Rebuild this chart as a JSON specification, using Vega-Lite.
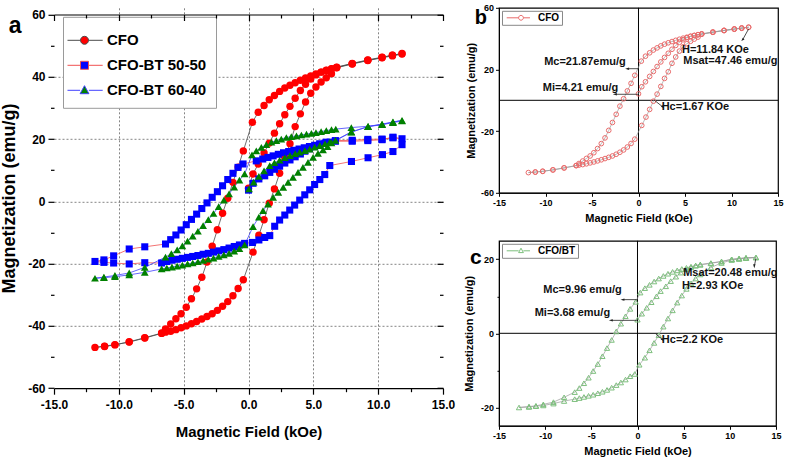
{
  "$schema": "https://vega.github.io/schema/vega-lite/v6.json",
  "background": "white",
  "padding": {"left": 0, "top": 2.8, "right": 2, "bottom": 2},
  "config": {
    "view": {"stroke": "#000", "strokeWidth": 1.2},
    "axis": {"labelColor": "#000", "titleColor": "#000", "tickColor": "#000", "domainColor": "#000", "labelFontWeight": "bold", "titleFontWeight": "bold", "labelFont": "Liberation Sans", "titleFont": "Liberation Sans", "grid": false, "minExtent": 0},
    "axisY": {"minExtent": 0},
    "legend": {"cornerRadius": 0, "strokeColor": "#999", "fillColor": "white"}
  },
  "datasets": {
    "loops": [
      {"s":"CFO","h":0,"m":4.21},{"s":"CFO","h":0.35,"m":8.8},{"s":"CFO","h":0.75,"m":12.0},{"s":"CFO","h":1.2,"m":15.5},{"s":"CFO","h":1.6,"m":18.7},{"s":"CFO","h":2.0,"m":21.9},{"s":"CFO","h":2.4,"m":24.9},{"s":"CFO","h":2.8,"m":27.8},{"s":"CFO","h":3.2,"m":30.5},{"s":"CFO","h":3.6,"m":33.1},{"s":"CFO","h":4.0,"m":35.6},{"s":"CFO","h":4.4,"m":37.6},{"s":"CFO","h":4.8,"m":39.3},{"s":"CFO","h":5.2,"m":40.6},{"s":"CFO","h":5.6,"m":41.5},{"s":"CFO","h":6.0,"m":42.1},{"s":"CFO","h":6.4,"m":42.6},{"s":"CFO","h":6.8,"m":43.1},{"s":"CFO","h":8.0,"m":44.3},{"s":"CFO","h":9.2,"m":45.4},{"s":"CFO","h":10.3,"m":46.3},{"s":"CFO","h":11.1,"m":46.9},{"s":"CFO","h":11.84,"m":47.46},
      {"s":"CFO","h":11.1,"m":46.9},{"s":"CFO","h":10.3,"m":46.2},{"s":"CFO","h":9.2,"m":45.3},{"s":"CFO","h":8.0,"m":44.2},{"s":"CFO","h":6.8,"m":43.0},{"s":"CFO","h":6.4,"m":42.5},{"s":"CFO","h":6.0,"m":42.0},{"s":"CFO","h":5.6,"m":41.5},{"s":"CFO","h":5.2,"m":40.9},{"s":"CFO","h":4.8,"m":40.3},{"s":"CFO","h":4.4,"m":39.6},{"s":"CFO","h":4.0,"m":38.9},{"s":"CFO","h":3.6,"m":38.1},{"s":"CFO","h":3.2,"m":37.3},{"s":"CFO","h":2.8,"m":36.4},{"s":"CFO","h":2.4,"m":35.3},{"s":"CFO","h":2.0,"m":34.0},{"s":"CFO","h":1.6,"m":32.6},{"s":"CFO","h":1.2,"m":30.8},{"s":"CFO","h":0.75,"m":28.6},{"s":"CFO","h":0.3,"m":25.4},{"s":"CFO","h":-0.4,"m":16.2},{"s":"CFO","h":-0.8,"m":11.0},{"s":"CFO","h":-1.2,"m":6.1},{"s":"CFO","h":-1.6,"m":1.0},{"s":"CFO","h":-2.0,"m":-3.8},{"s":"CFO","h":-2.4,"m":-9.1},{"s":"CFO","h":-2.8,"m":-14.4},{"s":"CFO","h":-3.2,"m":-19.5},{"s":"CFO","h":-3.6,"m":-24.4},{"s":"CFO","h":-4.0,"m":-28.1},{"s":"CFO","h":-4.4,"m":-31.3},{"s":"CFO","h":-4.8,"m":-34.0},{"s":"CFO","h":-5.2,"m":-36.1},{"s":"CFO","h":-5.6,"m":-37.7},{"s":"CFO","h":-6.0,"m":-39.4},{"s":"CFO","h":-6.4,"m":-41.0},{"s":"CFO","h":-6.7,"m":-42.4},{"s":"CFO","h":-8.0,"m":-43.9},{"s":"CFO","h":-9.2,"m":-45.2},{"s":"CFO","h":-10.3,"m":-46.0},{"s":"CFO","h":-11.1,"m":-46.5},{"s":"CFO","h":-11.84,"m":-46.9},
      {"s":"CFO","h":-11.1,"m":-46.6},{"s":"CFO","h":-10.3,"m":-46.1},{"s":"CFO","h":-9.2,"m":-45.1},{"s":"CFO","h":-8.0,"m":-43.8},{"s":"CFO","h":-6.7,"m":-42.3},{"s":"CFO","h":-6.4,"m":-42.0},{"s":"CFO","h":-6.0,"m":-41.7},{"s":"CFO","h":-5.6,"m":-41.2},{"s":"CFO","h":-5.2,"m":-40.6},{"s":"CFO","h":-4.8,"m":-40.0},{"s":"CFO","h":-4.4,"m":-39.3},{"s":"CFO","h":-4.0,"m":-38.6},{"s":"CFO","h":-3.6,"m":-37.8},{"s":"CFO","h":-3.2,"m":-37.0},{"s":"CFO","h":-2.8,"m":-36.1},{"s":"CFO","h":-2.4,"m":-35.0},{"s":"CFO","h":-2.0,"m":-33.7},{"s":"CFO","h":-1.6,"m":-32.2},{"s":"CFO","h":-1.2,"m":-30.3},{"s":"CFO","h":-0.8,"m":-28.0},{"s":"CFO","h":-0.4,"m":-25.2},{"s":"CFO","h":0.35,"m":-16.3},{"s":"CFO","h":0.8,"m":-10.9},{"s":"CFO","h":1.2,"m":-5.9},{"s":"CFO","h":1.6,"m":-0.6},{"s":"CFO","h":2.0,"m":4.0},{"s":"CFO","h":2.4,"m":9.0},{"s":"CFO","h":2.8,"m":14.2},{"s":"CFO","h":3.2,"m":18.5},{"s":"CFO","h":3.6,"m":24.0},{"s":"CFO","h":4.0,"m":28.1},{"s":"CFO","h":4.4,"m":31.9},{"s":"CFO","h":4.8,"m":34.7},{"s":"CFO","h":5.2,"m":36.7},{"s":"CFO","h":5.6,"m":38.3},{"s":"CFO","h":6.0,"m":39.7},{"s":"CFO","h":6.4,"m":41.0},{"s":"CFO","h":6.8,"m":42.9},{"s":"CFO","h":8.0,"m":44.1},{"s":"CFO","h":9.2,"m":45.2},{"s":"CFO","h":10.3,"m":46.1},{"s":"CFO","h":11.1,"m":46.7},{"s":"CFO","h":11.84,"m":47.3},

      {"s":"CFO-BT 50-50","h":0,"m":3.6},{"s":"CFO-BT 50-50","h":0.35,"m":5.8},{"s":"CFO-BT 50-50","h":0.8,"m":7.2},{"s":"CFO-BT 50-50","h":1.25,"m":8.2},{"s":"CFO-BT 50-50","h":1.64,"m":9.3},{"s":"CFO-BT 50-50","h":2.0,"m":10.3},{"s":"CFO-BT 50-50","h":2.4,"m":11.3},{"s":"CFO-BT 50-50","h":2.8,"m":12.3},{"s":"CFO-BT 50-50","h":3.2,"m":13.3},{"s":"CFO-BT 50-50","h":3.6,"m":14.3},{"s":"CFO-BT 50-50","h":4.0,"m":15.2},{"s":"CFO-BT 50-50","h":4.35,"m":16.1},{"s":"CFO-BT 50-50","h":4.7,"m":16.9},{"s":"CFO-BT 50-50","h":5.1,"m":17.6},{"s":"CFO-BT 50-50","h":5.5,"m":18.4},{"s":"CFO-BT 50-50","h":6.0,"m":19.0},{"s":"CFO-BT 50-50","h":6.7,"m":19.5},{"s":"CFO-BT 50-50","h":8.0,"m":19.6},{"s":"CFO-BT 50-50","h":9.2,"m":19.9},{"s":"CFO-BT 50-50","h":10.3,"m":20.0},{"s":"CFO-BT 50-50","h":11.14,"m":20.4},{"s":"CFO-BT 50-50","h":11.84,"m":20.1},
      {"s":"CFO-BT 50-50","h":11.14,"m":20.6},{"s":"CFO-BT 50-50","h":10.3,"m":19.8},{"s":"CFO-BT 50-50","h":9.2,"m":19.5},{"s":"CFO-BT 50-50","h":8.0,"m":19.3},{"s":"CFO-BT 50-50","h":6.7,"m":19.3},{"s":"CFO-BT 50-50","h":6.3,"m":19.0},{"s":"CFO-BT 50-50","h":5.9,"m":18.7},{"s":"CFO-BT 50-50","h":5.5,"m":18.4},{"s":"CFO-BT 50-50","h":5.1,"m":18.0},{"s":"CFO-BT 50-50","h":4.7,"m":17.6},{"s":"CFO-BT 50-50","h":4.3,"m":17.2},{"s":"CFO-BT 50-50","h":3.9,"m":16.8},{"s":"CFO-BT 50-50","h":3.5,"m":16.4},{"s":"CFO-BT 50-50","h":3.1,"m":16.0},{"s":"CFO-BT 50-50","h":2.7,"m":15.6},{"s":"CFO-BT 50-50","h":2.3,"m":15.1},{"s":"CFO-BT 50-50","h":1.9,"m":14.6},{"s":"CFO-BT 50-50","h":1.5,"m":14.1},{"s":"CFO-BT 50-50","h":1.1,"m":13.6},{"s":"CFO-BT 50-50","h":0.6,"m":13.0},{"s":"CFO-BT 50-50","h":-0.42,"m":12.0},{"s":"CFO-BT 50-50","h":-0.81,"m":10.9},{"s":"CFO-BT 50-50","h":-1.2,"m":9.0},{"s":"CFO-BT 50-50","h":-1.6,"m":7.0},{"s":"CFO-BT 50-50","h":-2.0,"m":5.0},{"s":"CFO-BT 50-50","h":-2.4,"m":3.1},{"s":"CFO-BT 50-50","h":-2.8,"m":1.3},{"s":"CFO-BT 50-50","h":-3.2,"m":-0.5},{"s":"CFO-BT 50-50","h":-3.6,"m":-2.3},{"s":"CFO-BT 50-50","h":-4.0,"m":-4.1},{"s":"CFO-BT 50-50","h":-4.4,"m":-5.8},{"s":"CFO-BT 50-50","h":-4.8,"m":-7.5},{"s":"CFO-BT 50-50","h":-5.2,"m":-9.2},{"s":"CFO-BT 50-50","h":-5.6,"m":-10.8},{"s":"CFO-BT 50-50","h":-6.0,"m":-12.3},{"s":"CFO-BT 50-50","h":-6.4,"m":-13.7},{"s":"CFO-BT 50-50","h":-8.0,"m":-14.6},{"s":"CFO-BT 50-50","h":-9.2,"m":-15.3},{"s":"CFO-BT 50-50","h":-10.4,"m":-17.5},{"s":"CFO-BT 50-50","h":-11.15,"m":-18.8},{"s":"CFO-BT 50-50","h":-11.84,"m":-19.3},
      {"s":"CFO-BT 50-50","h":-11.15,"m":-19.6},{"s":"CFO-BT 50-50","h":-10.4,"m":-19.8},{"s":"CFO-BT 50-50","h":-9.2,"m":-20.1},{"s":"CFO-BT 50-50","h":-8.0,"m":-19.7},{"s":"CFO-BT 50-50","h":-6.7,"m":-19.8},{"s":"CFO-BT 50-50","h":-6.3,"m":-19.3},{"s":"CFO-BT 50-50","h":-5.9,"m":-18.9},{"s":"CFO-BT 50-50","h":-5.5,"m":-18.6},{"s":"CFO-BT 50-50","h":-5.1,"m":-18.3},{"s":"CFO-BT 50-50","h":-4.7,"m":-18.0},{"s":"CFO-BT 50-50","h":-4.3,"m":-17.7},{"s":"CFO-BT 50-50","h":-3.9,"m":-17.4},{"s":"CFO-BT 50-50","h":-3.5,"m":-17.0},{"s":"CFO-BT 50-50","h":-3.1,"m":-16.7},{"s":"CFO-BT 50-50","h":-2.7,"m":-16.3},{"s":"CFO-BT 50-50","h":-2.3,"m":-15.9},{"s":"CFO-BT 50-50","h":-1.9,"m":-15.5},{"s":"CFO-BT 50-50","h":-1.5,"m":-15.0},{"s":"CFO-BT 50-50","h":-1.1,"m":-14.5},{"s":"CFO-BT 50-50","h":-0.7,"m":-14.0},{"s":"CFO-BT 50-50","h":-0.3,"m":-13.5},{"s":"CFO-BT 50-50","h":0.3,"m":-13.2},{"s":"CFO-BT 50-50","h":0.8,"m":-12.4},{"s":"CFO-BT 50-50","h":1.25,"m":-11.6},{"s":"CFO-BT 50-50","h":1.64,"m":-11.0},{"s":"CFO-BT 50-50","h":2.02,"m":-8.0},{"s":"CFO-BT 50-50","h":2.4,"m":-6.0},{"s":"CFO-BT 50-50","h":2.8,"m":-4.4},{"s":"CFO-BT 50-50","h":3.18,"m":-2.8},{"s":"CFO-BT 50-50","h":3.56,"m":-1.2},{"s":"CFO-BT 50-50","h":3.95,"m":0.4},{"s":"CFO-BT 50-50","h":4.34,"m":2.1},{"s":"CFO-BT 50-50","h":4.72,"m":3.7},{"s":"CFO-BT 50-50","h":5.1,"m":5.4},{"s":"CFO-BT 50-50","h":5.5,"m":7.0},{"s":"CFO-BT 50-50","h":5.88,"m":8.6},{"s":"CFO-BT 50-50","h":6.27,"m":11.5},{"s":"CFO-BT 50-50","h":7.94,"m":12.8},{"s":"CFO-BT 50-50","h":9.22,"m":14.0},{"s":"CFO-BT 50-50","h":10.33,"m":15.0},{"s":"CFO-BT 50-50","h":11.14,"m":16.0},{"s":"CFO-BT 50-50","h":11.84,"m":18.2},

      {"s":"CFO-BT 60-40","h":0.04,"m":4.0},{"s":"CFO-BT 60-40","h":0.4,"m":6.2},{"s":"CFO-BT 60-40","h":0.8,"m":8.0},{"s":"CFO-BT 60-40","h":1.2,"m":9.8},{"s":"CFO-BT 60-40","h":1.64,"m":11.5},{"s":"CFO-BT 60-40","h":2.0,"m":12.4},{"s":"CFO-BT 60-40","h":2.4,"m":13.2},{"s":"CFO-BT 60-40","h":2.8,"m":14.0},{"s":"CFO-BT 60-40","h":3.2,"m":14.7},{"s":"CFO-BT 60-40","h":3.6,"m":15.3},{"s":"CFO-BT 60-40","h":3.95,"m":15.8},{"s":"CFO-BT 60-40","h":4.35,"m":16.3},{"s":"CFO-BT 60-40","h":4.72,"m":16.8},{"s":"CFO-BT 60-40","h":5.1,"m":17.4},{"s":"CFO-BT 60-40","h":5.5,"m":17.9},{"s":"CFO-BT 60-40","h":5.9,"m":18.5},{"s":"CFO-BT 60-40","h":6.27,"m":19.0},{"s":"CFO-BT 60-40","h":6.7,"m":19.6},{"s":"CFO-BT 60-40","h":7.93,"m":22.3},{"s":"CFO-BT 60-40","h":9.22,"m":24.0},{"s":"CFO-BT 60-40","h":10.3,"m":24.8},{"s":"CFO-BT 60-40","h":11.14,"m":25.5},{"s":"CFO-BT 60-40","h":11.84,"m":26.0},
      {"s":"CFO-BT 60-40","h":11.14,"m":25.4},{"s":"CFO-BT 60-40","h":10.3,"m":24.7},{"s":"CFO-BT 60-40","h":9.22,"m":24.1},{"s":"CFO-BT 60-40","h":7.93,"m":23.7},{"s":"CFO-BT 60-40","h":6.73,"m":23.2},{"s":"CFO-BT 60-40","h":6.4,"m":23.0},{"s":"CFO-BT 60-40","h":6.0,"m":22.7},{"s":"CFO-BT 60-40","h":5.6,"m":22.4},{"s":"CFO-BT 60-40","h":5.2,"m":22.1},{"s":"CFO-BT 60-40","h":4.85,"m":21.8},{"s":"CFO-BT 60-40","h":4.47,"m":21.6},{"s":"CFO-BT 60-40","h":4.08,"m":21.3},{"s":"CFO-BT 60-40","h":3.7,"m":21.0},{"s":"CFO-BT 60-40","h":3.3,"m":20.8},{"s":"CFO-BT 60-40","h":2.92,"m":20.5},{"s":"CFO-BT 60-40","h":2.53,"m":20.0},{"s":"CFO-BT 60-40","h":2.15,"m":19.5},{"s":"CFO-BT 60-40","h":1.77,"m":19.0},{"s":"CFO-BT 60-40","h":1.38,"m":18.2},{"s":"CFO-BT 60-40","h":0.99,"m":17.3},{"s":"CFO-BT 60-40","h":0.6,"m":16.2},{"s":"CFO-BT 60-40","h":0.27,"m":14.9},{"s":"CFO-BT 60-40","h":-0.3,"m":8.8},{"s":"CFO-BT 60-40","h":-0.7,"m":6.8},{"s":"CFO-BT 60-40","h":-1.1,"m":4.6},{"s":"CFO-BT 60-40","h":-1.5,"m":2.4},{"s":"CFO-BT 60-40","h":-1.9,"m":0.4},{"s":"CFO-BT 60-40","h":-2.3,"m":-1.7},{"s":"CFO-BT 60-40","h":-2.7,"m":-3.9},{"s":"CFO-BT 60-40","h":-3.1,"m":-5.9},{"s":"CFO-BT 60-40","h":-3.5,"m":-7.8},{"s":"CFO-BT 60-40","h":-3.9,"m":-9.6},{"s":"CFO-BT 60-40","h":-4.3,"m":-11.2},{"s":"CFO-BT 60-40","h":-4.7,"m":-12.8},{"s":"CFO-BT 60-40","h":-5.1,"m":-14.3},{"s":"CFO-BT 60-40","h":-5.5,"m":-15.6},{"s":"CFO-BT 60-40","h":-5.95,"m":-16.8},{"s":"CFO-BT 60-40","h":-6.4,"m":-17.9},{"s":"CFO-BT 60-40","h":-8.0,"m":-21.2},{"s":"CFO-BT 60-40","h":-9.2,"m":-23.0},{"s":"CFO-BT 60-40","h":-10.3,"m":-23.8},{"s":"CFO-BT 60-40","h":-11.15,"m":-24.3},{"s":"CFO-BT 60-40","h":-11.84,"m":-24.7},
      {"s":"CFO-BT 60-40","h":-11.15,"m":-24.5},{"s":"CFO-BT 60-40","h":-10.3,"m":-24.2},{"s":"CFO-BT 60-40","h":-9.2,"m":-23.6},{"s":"CFO-BT 60-40","h":-8.0,"m":-22.8},{"s":"CFO-BT 60-40","h":-6.7,"m":-21.7},{"s":"CFO-BT 60-40","h":-6.3,"m":-21.4},{"s":"CFO-BT 60-40","h":-5.9,"m":-21.1},{"s":"CFO-BT 60-40","h":-5.5,"m":-20.8},{"s":"CFO-BT 60-40","h":-5.1,"m":-20.5},{"s":"CFO-BT 60-40","h":-4.7,"m":-20.1},{"s":"CFO-BT 60-40","h":-4.3,"m":-19.8},{"s":"CFO-BT 60-40","h":-3.9,"m":-19.4},{"s":"CFO-BT 60-40","h":-3.5,"m":-19.0},{"s":"CFO-BT 60-40","h":-3.1,"m":-18.6},{"s":"CFO-BT 60-40","h":-2.7,"m":-18.2},{"s":"CFO-BT 60-40","h":-2.3,"m":-17.7},{"s":"CFO-BT 60-40","h":-1.9,"m":-17.2},{"s":"CFO-BT 60-40","h":-1.5,"m":-16.7},{"s":"CFO-BT 60-40","h":-1.1,"m":-16.0},{"s":"CFO-BT 60-40","h":-0.7,"m":-15.2},{"s":"CFO-BT 60-40","h":-0.3,"m":-14.0},{"s":"CFO-BT 60-40","h":0.35,"m":-8.1},{"s":"CFO-BT 60-40","h":0.8,"m":-5.1},{"s":"CFO-BT 60-40","h":1.12,"m":-3.0},{"s":"CFO-BT 60-40","h":1.5,"m":-0.9},{"s":"CFO-BT 60-40","h":1.9,"m":1.3},{"s":"CFO-BT 60-40","h":2.3,"m":2.9},{"s":"CFO-BT 60-40","h":2.68,"m":4.5},{"s":"CFO-BT 60-40","h":3.05,"m":6.1},{"s":"CFO-BT 60-40","h":3.43,"m":7.7},{"s":"CFO-BT 60-40","h":3.82,"m":9.3},{"s":"CFO-BT 60-40","h":4.2,"m":10.9},{"s":"CFO-BT 60-40","h":4.59,"m":12.5},{"s":"CFO-BT 60-40","h":4.98,"m":14.1},{"s":"CFO-BT 60-40","h":5.36,"m":15.4},{"s":"CFO-BT 60-40","h":5.75,"m":16.5},{"s":"CFO-BT 60-40","h":6.1,"m":17.6},{"s":"CFO-BT 60-40","h":6.4,"m":18.8},{"s":"CFO-BT 60-40","h":7.93,"m":22.2},{"s":"CFO-BT 60-40","h":9.22,"m":24.0},{"s":"CFO-BT 60-40","h":10.3,"m":24.6},{"s":"CFO-BT 60-40","h":11.14,"m":25.3},{"s":"CFO-BT 60-40","h":11.84,"m":25.8}
    ],
    "cfobt": [
      {"h":0,"m":3.68},{"h":0.47,"m":5.3},{"h":1.0,"m":6.9},{"h":1.5,"m":8.4},{"h":2.06,"m":10.0},{"h":2.5,"m":11.4},{"h":3.07,"m":12.7},{"h":3.6,"m":14.1},{"h":4.16,"m":15.3},{"h":4.7,"m":16.4},{"h":5.24,"m":17.3},{"h":5.78,"m":17.9},{"h":6.3,"m":18.3},{"h":6.8,"m":18.6},{"h":7.95,"m":19.0},{"h":9.1,"m":19.4},{"h":10.2,"m":20.0},{"h":11.0,"m":20.2},{"h":11.75,"m":20.4},{"h":12.83,"m":20.48},
      {"h":11.75,"m":20.4},{"h":11.0,"m":20.2},{"h":10.2,"m":20.0},{"h":9.1,"m":19.4},{"h":7.95,"m":18.9},{"h":6.8,"m":18.5},{"h":6.3,"m":18.3},{"h":5.8,"m":18.0},{"h":5.3,"m":17.7},{"h":4.8,"m":17.4},{"h":4.3,"m":17.0},{"h":3.8,"m":16.6},{"h":3.3,"m":16.1},{"h":2.8,"m":15.5},{"h":2.3,"m":14.8},{"h":1.8,"m":14.0},{"h":1.3,"m":13.1},{"h":0.8,"m":12.2},{"h":0.3,"m":11.0},{"h":-0.2,"m":8.5},{"h":-0.8,"m":6.6},{"h":-1.3,"m":4.6},{"h":-1.8,"m":2.6},{"h":-2.3,"m":0.5},{"h":-2.8,"m":-1.8},{"h":-3.3,"m":-4.0},{"h":-3.8,"m":-6.2},{"h":-4.3,"m":-8.3},{"h":-4.8,"m":-10.2},{"h":-5.3,"m":-12.0},{"h":-5.8,"m":-13.5},{"h":-6.3,"m":-14.8},{"h":-6.8,"m":-15.9},{"h":-7.95,"m":-17.3},{"h":-9.1,"m":-18.6},{"h":-10.2,"m":-19.2},{"h":-11.0,"m":-19.6},{"h":-11.75,"m":-19.8},{"h":-12.83,"m":-20.05},
      {"h":-11.75,"m":-19.9},{"h":-11.0,"m":-19.7},{"h":-10.2,"m":-19.5},{"h":-9.1,"m":-19.0},{"h":-7.95,"m":-18.3},{"h":-6.8,"m":-17.8},{"h":-6.3,"m":-17.5},{"h":-5.8,"m":-17.2},{"h":-5.3,"m":-16.9},{"h":-4.8,"m":-16.6},{"h":-4.3,"m":-16.2},{"h":-3.8,"m":-15.8},{"h":-3.3,"m":-15.3},{"h":-2.8,"m":-14.7},{"h":-2.3,"m":-14.0},{"h":-1.8,"m":-13.3},{"h":-1.3,"m":-12.5},{"h":-0.8,"m":-11.6},{"h":-0.3,"m":-11.0},{"h":0.2,"m":-8.5},{"h":0.8,"m":-6.6},{"h":1.3,"m":-4.6},{"h":1.8,"m":-2.6},{"h":2.3,"m":-0.5},{"h":2.8,"m":1.8},{"h":3.3,"m":4.0},{"h":3.8,"m":6.2},{"h":4.3,"m":8.3},{"h":4.8,"m":10.2},{"h":5.3,"m":12.0},{"h":5.8,"m":13.5},{"h":6.3,"m":14.8},{"h":6.8,"m":15.9},{"h":7.95,"m":17.8},{"h":9.1,"m":19.0},{"h":10.2,"m":19.8},{"h":11.0,"m":20.1},{"h":11.75,"m":20.3},{"h":12.83,"m":20.5}
    ],
    "annB": [
      {"h":-5.76,"m":24.8,"t":"Mc=21.87emu/g"},{"h":-6.23,"m":8.2,"t":"Mi=4.21 emu/g"},{"h":8.27,"m":32.8,"t":"H=11.84 KOe"},{"h":9.88,"m":25.3,"t":"Msat=47.46 emu/g"},{"h":6.12,"m":-4.3,"t":"Hc=1.67 KOe"}
    ],
    "arrB": [
      {"h":0.04,"m":20.5,"h2":-1.22,"m2":20.5,"d":"left"},{"h":0.04,"m":3.9,"h2":-2.54,"m2":3.9,"d":"left"},{"h":11.85,"m":46.4,"h2":11.2,"m2":39.3,"d":"sw"},{"h":1.72,"m":0,"h2":2.61,"m2":-4.3,"d":"se"}
    ],
    "annC": [
      {"h":-5.96,"m":11.65,"t":"Mc=9.96 emu/g"},{"h":-7.05,"m":5.5,"t":"Mi=3.68 emu/g"},{"h":10.05,"m":16.2,"t":"Msat=20.48 emu/g"},{"h":8.13,"m":12.9,"t":"H=2.93 KOe"},{"h":5.96,"m":-1.9,"t":"Hc=2.2 KOe"}
    ],
    "arrC": [
      {"h":-0.07,"m":9.1,"h2":-1.63,"m2":9.1,"d":"left"},{"h":-0.07,"m":3.5,"h2":-2.89,"m2":3.5,"d":"left"},{"h":12.83,"m":20.3,"h2":12.65,"m2":18.1,"d":"down"},{"h":1.99,"m":-0.2,"h2":2.71,"m2":-1.7,"d":"se"}
    ]
  },
  "spacing": 7,
  "resolve": {"scale": {"x": "independent", "y": "independent", "fill": "independent", "stroke": "independent", "shape": "independent"}, "legend": {"fill": "independent", "stroke": "independent", "shape": "independent"}},
  "hconcat": [
    {
      "width": 389,
      "height": 380.4,
      "view": {"stroke": null},
      "resolve": {"axis": {"x": "independent", "y": "independent"}},
      "layer": [
        {
          "data": {"name": "loops"},
          "transform": [{"filter": "datum.s === 'CFO'"}],
          "mark": {"type": "line", "strokeWidth": 0.8, "stroke": "#4a4a4a"},
          "encoding": {
            "x": {"field": "h", "type": "quantitative", "scale": {"domain": [-15, 15], "nice": false, "zero": false},
              "axis": {"orient": "top", "title": null, "labels": false, "domain": true, "domainWidth": 1.2, "grid": false, "offset": -6.7, "zindex": 1,
                "values": [-15,-12.5,-10,-7.5,-5,-2.5,0,2.5,5,7.5,10,12.5,15],
                "tickWidth": 1.2, "tickSize": {"condition": {"test": "datum.value % 5 !== 0", "value": -3.5}, "value": -6}}},
            "y": {"field": "m", "type": "quantitative", "scale": {"domain": [-60, 62.15], "nice": false, "zero": false},
              "axis": {"orient": "right", "title": null, "labels": false, "domain": false, "grid": false, "minExtent": 0,
                "values": [-60,-50,-40,-30,-20,-10,0,10,20,30,40,50,60],
                "tickWidth": 1.2, "tickSize": {"condition": {"test": "datum.value % 20 !== 0", "value": -3.5}, "value": -6}}},
            "order": {"value": null}
          }
        },
        {
          "data": {"name": "loops"},
          "transform": [{"filter": "datum.s === 'CFO-BT 50-50'"}],
          "mark": {"type": "line", "strokeWidth": 0.8, "stroke": "#f05050"},
          "encoding": {
            "x": {"field": "h", "type": "quantitative", "scale": {"domain": [-15, 15], "nice": false, "zero": false}, "axis": null},
            "y": {"field": "m", "type": "quantitative", "scale": {"domain": [-60, 62.15], "nice": false, "zero": false}, "axis": null},
            "order": {"value": null}
          }
        },
        {
          "data": {"name": "loops"},
          "transform": [{"filter": "datum.s === 'CFO-BT 60-40'"}],
          "mark": {"type": "line", "strokeWidth": 0.8, "stroke": "#4040ff"},
          "encoding": {
            "x": {"field": "h", "type": "quantitative", "scale": {"domain": [-15, 15], "nice": false, "zero": false}, "axis": null},
            "y": {"field": "m", "type": "quantitative", "scale": {"domain": [-60, 62.15], "nice": false, "zero": false}, "axis": null},
            "order": {"value": null}
          }
        },
        {
          "data": {"name": "loops"},
          "transform": [{"filter": "datum.s === 'CFO'"}],
          "mark": {"type": "point", "filled": true, "opacity": 1, "size": 55, "strokeWidth": 0, "shape": "circle", "fill": "#ff0000"},
          "encoding": {
            "x": {"field": "h", "type": "quantitative", "scale": {"domain": [-15, 15], "nice": false, "zero": false},
              "axis": {"orient": "bottom", "title": "Magnetic Field (kOe)",
                "values": [-15,-12.5,-10,-7.5,-5,-2.5,0,2.5,5,7.5,10,12.5,15],
                "labelExpr": "datum.value % 5 === 0 ? (datum.value < 0 ? '-' : '') + format(abs(datum.value), '.1f') : ''",
                "labelOverlap": false, "labelFlush": false,
                "labelFontSize": 12, "labelPadding": 5,
                "tickWidth": 1.2, "tickSize": {"condition": {"test": "datum.value % 5 !== 0", "value": 3.5}, "value": 6},
                "domainWidth": 1.2,
                "grid": true, "gridColor": "#666", "gridDash": [2, 2], "gridWidth": 0.8,
                "gridOpacity": {"condition": {"test": "datum.value % 5 !== 0 || abs(datum.value) === 15", "value": 0}, "value": 1},
                "titleFontSize": 15, "titlePadding": 14}},
            "y": {"field": "m", "type": "quantitative", "scale": {"domain": [-60, 62.15], "nice": false, "zero": false},
              "axis": {"orient": "left", "title": "Magnetization (emu/g)", "minExtent": 0, "domain": false,
                "values": [-60,-50,-40,-30,-20,-10,0,10,20,30,40,50,60],
                "labelExpr": "datum.value % 20 === 0 ? '' + datum.value : ''",
                "labelOverlap": false, "labelFlush": false,
                "labelFontSize": 12, "labelPadding": 3,
                "tickWidth": 1.2, "tickSize": {"condition": {"test": "datum.value % 20 !== 0", "value": 3.5}, "value": 6},
                "grid": true, "gridColor": "#666", "gridDash": [2, 2], "gridWidth": 0.8,
                "gridOpacity": {"condition": {"test": "datum.value % 20 !== 0 || abs(datum.value) === 60", "value": 0}, "value": 1},
                "titleFontSize": 18, "titlePadding": 9}}
          }
        },
        {
          "data": {"name": "loops"},
          "transform": [{"filter": "datum.s === 'CFO-BT 50-50'"}],
          "mark": {"type": "point", "filled": true, "opacity": 1, "size": 50, "strokeWidth": 0, "shape": "square", "fill": "#0000ff"},
          "encoding": {
            "x": {"field": "h", "type": "quantitative", "scale": {"domain": [-15, 15], "nice": false, "zero": false}, "axis": null},
            "y": {"field": "m", "type": "quantitative", "scale": {"domain": [-60, 62.15], "nice": false, "zero": false}, "axis": null}
          }
        },
        {
          "data": {"name": "loops"},
          "transform": [{"filter": "datum.s === 'CFO-BT 60-40'"}],
          "mark": {"type": "point", "filled": true, "opacity": 1, "size": 60, "strokeWidth": 0, "shape": "triangle-up", "fill": "#008000"},
          "encoding": {
            "x": {"field": "h", "type": "quantitative", "scale": {"domain": [-15, 15], "nice": false, "zero": false}, "axis": null},
            "y": {"field": "m", "type": "quantitative", "scale": {"domain": [-60, 62.15], "nice": false, "zero": false}, "axis": null}
          }
        },
        {
          "data": {"name": "loops"},
          "mark": {"type": "point", "filled": true, "opacity": 0, "size": 64, "strokeWidth": 1},
          "encoding": {
            "x": {"field": "h", "type": "quantitative", "scale": {"domain": [-15, 15], "nice": false, "zero": false}, "axis": null},
            "y": {"field": "m", "type": "quantitative", "scale": {"domain": [-60, 62.15], "nice": false, "zero": false}, "axis": null},
            "fill": {"field": "s", "type": "nominal", "scale": {"domain": ["CFO", "CFO-BT 50-50", "CFO-BT 60-40"], "range": ["#ff0000", "#0000ff", "#008000"]},
              "legend": {"title": " ", "titleFontSize": 5, "titlePadding": 2, "orient": "top-left", "offset": 9, "padding": 9, "rowPadding": 9, "strokeColor": "#9a9a9a", "fillColor": "white",
                "labelFont": "Liberation Sans", "labelFontSize": 15, "labelFontWeight": "bold", "labelColor": "#000", "labelOffset": 20,
                "symbolSize": 64, "symbolStrokeWidth": 1, "symbolOpacity": 1}},
            "shape": {"field": "s", "type": "nominal", "scale": {"domain": ["CFO", "CFO-BT 50-50", "CFO-BT 60-40"],
                "range": ["M-3,0H0.25M2.25,0H5.8M2.25,0A1,1,0,1,1,0.25,0A1,1,0,1,1,2.25,0Z", "M-3,0H0.25M2.25,0H5.8M0.25,-1H2.25V1H0.25Z", "M-3,0H0.15M2.35,0H5.8M1.25,-1.15L2.35,0.85L0.15,0.85Z"]},
              "legend": {"title": " ", "titleFontSize": 5, "titlePadding": 2, "orient": "top-left", "offset": 9, "padding": 9, "rowPadding": 9, "strokeColor": "#9a9a9a", "fillColor": "white",
                "labelFont": "Liberation Sans", "labelFontSize": 15, "labelFontWeight": "bold", "labelColor": "#000", "labelOffset": 20,
                "symbolSize": 64, "symbolStrokeWidth": 1, "symbolOpacity": 1}},
            "stroke": {"field": "s", "type": "nominal", "scale": {"domain": ["CFO", "CFO-BT 50-50", "CFO-BT 60-40"], "range": ["#4a4a4a", "#f05050", "#4040ff"]},
              "legend": {"title": " ", "titleFontSize": 5, "titlePadding": 2, "orient": "top-left", "offset": 9, "padding": 9, "rowPadding": 9, "strokeColor": "#9a9a9a", "fillColor": "white",
                "labelFont": "Liberation Sans", "labelFontSize": 15, "labelFontWeight": "bold", "labelColor": "#000", "labelOffset": 20,
                "symbolSize": 64, "symbolStrokeWidth": 1, "symbolOpacity": 1}}
          }
        },
        {
          "mark": {"type": "rect", "color": "white"},
          "encoding": {
            "x": {"datum": -15, "type": "quantitative", "scale": {"domain": [-15, 15], "nice": false, "zero": false}, "axis": null},
            "x2": {"datum": 15},
            "y": {"datum": 60, "type": "quantitative", "scale": {"domain": [-60, 62.15], "nice": false, "zero": false}, "axis": null},
            "y2": {"datum": 62.15}
          }
        },
        {
          "mark": {"type": "rule", "color": "#000", "strokeWidth": 1.2},
          "encoding": {
            "x": {"datum": -15, "type": "quantitative", "scale": {"domain": [-15, 15], "nice": false, "zero": false}, "axis": null},
            "y": {"datum": -60, "type": "quantitative", "scale": {"domain": [-60, 62.15], "nice": false, "zero": false}, "axis": null},
            "y2": {"datum": 60}
          }
        },
        {
          "mark": {"type": "rule", "color": "#000", "strokeWidth": 1.2},
          "encoding": {
            "x": {"datum": 15, "type": "quantitative", "scale": {"domain": [-15, 15], "nice": false, "zero": false}, "axis": null},
            "y": {"datum": -60, "type": "quantitative", "scale": {"domain": [-60, 62.15], "nice": false, "zero": false}, "axis": null},
            "y2": {"datum": 60}
          }
        },
        {
          "data": {"values": [{"h": -18.0, "m": 56.4, "t": "a"}]},
          "mark": {"type": "text", "clip": false, "fontSize": 23, "fontWeight": "bold", "font": "Liberation Sans", "color": "#000"},
          "encoding": {
            "x": {"field": "h", "type": "quantitative", "scale": {"domain": [-15, 15], "nice": false, "zero": false}, "axis": null},
            "y": {"field": "m", "type": "quantitative", "scale": {"domain": [-60, 62.15], "nice": false, "zero": false}, "axis": null},
            "text": {"field": "t"}
          }
        }
      ]
    },
    {
      "spacing": 14,
      "resolve": {"scale": {"x": "independent", "y": "independent", "fill": "independent", "stroke": "independent", "shape": "independent"}, "legend": {"fill": "independent", "stroke": "independent"}},
      "vconcat": [
        {
          "width": 279,
          "height": 185,
          "layer": [
            {
              "data": {"values": [{"z": 0}]},
              "mark": {"type": "rule", "color": "#000", "strokeWidth": 1},
              "encoding": {"x": {"field": "z", "type": "quantitative", "scale": {"domain": [-15, 15], "nice": false, "zero": false},
                "axis": {"title": "Magnetic Field (kOe)", "values": [-15,-12.5,-10,-7.5,-5,-2.5,0,2.5,5,7.5,10,12.5,15],
                  "labelExpr": "datum.value % 5 === 0 ? '' + datum.value : ''", "labelOverlap": false, "labelFlush": false,
                  "labelFontSize": 9, "labelPadding": 2, "tickSize": {"condition": {"test": "datum.value % 5 !== 0", "value": 2}, "value": 3.5},
                  "titleFontSize": 11, "titlePadding": 5, "domainWidth": 1}}}
            },
            {
              "data": {"values": [{"z": 0}]},
              "mark": {"type": "rule", "color": "#000", "strokeWidth": 1},
              "encoding": {"y": {"field": "z", "type": "quantitative", "scale": {"domain": [-60, 60], "nice": false, "zero": false},
                "axis": {"title": "Magnetization (emu/g)", "minExtent": 0, "values": [-60,-50,-40,-30,-20,-10,0,10,20,30,40,50,60],
                  "labelExpr": "datum.value % 20 === 0 ? '' + datum.value : ''", "labelOverlap": false, "labelFlush": false,
                  "labelFontSize": 9, "labelPadding": 2, "tickSize": {"condition": {"test": "datum.value % 20 !== 0", "value": 2}, "value": 3.5},
                  "titleFontSize": 11, "titlePadding": 4, "domainWidth": 1}}}
            },
            {
              "data": {"name": "loops"},
              "transform": [{"filter": "datum.s === 'CFO'"}],
              "mark": {"type": "line", "stroke": "#9a9a9a", "strokeWidth": 0.7},
              "encoding": {
                "x": {"field": "h", "type": "quantitative", "scale": {"domain": [-15, 15], "nice": false, "zero": false}},
                "y": {"field": "m", "type": "quantitative", "scale": {"domain": [-60, 60], "nice": false, "zero": false}},
                "order": {"value": null}
              }
            },
            {
              "data": {"name": "loops"},
              "transform": [{"filter": "datum.s === 'CFO'"}],
              "mark": {"type": "point", "filled": false, "size": 22, "strokeWidth": 1, "opacity": 1},
              "encoding": {
                "x": {"field": "h", "type": "quantitative", "scale": {"domain": [-15, 15], "nice": false, "zero": false}},
                "y": {"field": "m", "type": "quantitative", "scale": {"domain": [-60, 60], "nice": false, "zero": false}},
                "stroke": {"datum": "CFO", "type": "nominal", "scale": {"domain": ["CFO"], "range": ["#e86a6a"]},
                  "legend": {"title": null, "orient": "top-left", "offset": 3, "padding": 2, "strokeColor": "#888", "fillColor": "white",
                    "labelFontSize": 10, "labelFontWeight": "bold", "labelColor": "#000", "labelFont": "Liberation Sans", "labelOffset": 24,
                    "symbolSize": 16, "symbolStrokeWidth": 1, "symbolFillColor": "transparent",
                    "symbolType": "M-1.15,0H4.8M7.2,0H10.5M7.2,0A1.2,1.2,0,1,1,4.8,0A1.2,1.2,0,1,1,7.2,0Z"}}
              }
            },
            {
              "data": {"name": "arrB"},
              "mark": {"type": "rule", "color": "#222", "strokeWidth": 0.8},
              "encoding": {
                "x": {"field": "h", "type": "quantitative", "scale": {"domain": [-15, 15], "nice": false, "zero": false}},
                "y": {"field": "m", "type": "quantitative", "scale": {"domain": [-60, 60], "nice": false, "zero": false}},
                "x2": {"field": "h2"}, "y2": {"field": "m2"}
              }
            },
            {
              "data": {"name": "arrB"},
              "mark": {"type": "point", "filled": true, "size": 16, "color": "#222", "opacity": 1},
              "encoding": {
                "x": {"field": "h2", "type": "quantitative", "scale": {"domain": [-15, 15], "nice": false, "zero": false}},
                "y": {"field": "m2", "type": "quantitative", "scale": {"domain": [-60, 60], "nice": false, "zero": false}},
                "shape": {"field": "d", "type": "nominal", "scale": {"domain": ["left", "sw", "se", "down"], "range": ["M-1,0L1,-0.6L1,0.6Z", "M-0.7,0.7L0.92,-0.08L0.08,-0.92Z", "M0.7,0.7L-0.08,-0.92L-0.92,-0.08Z", "M0,1L-0.6,-1L0.6,-1Z"]}, "legend": null}
              }
            },
            {
              "data": {"name": "annB"},
              "mark": {"type": "text", "fontSize": 11, "fontWeight": "bold", "font": "Liberation Sans", "color": "#111"},
              "encoding": {
                "x": {"field": "h", "type": "quantitative", "scale": {"domain": [-15, 15], "nice": false, "zero": false}},
                "y": {"field": "m", "type": "quantitative", "scale": {"domain": [-60, 60], "nice": false, "zero": false}},
                "text": {"field": "t"}
              }
            },
            {
              "data": {"values": [{"h": -16.96, "m": 53.5, "t": "b"}]},
              "mark": {"type": "text", "clip": false, "fontSize": 20, "fontWeight": "bold", "font": "Liberation Sans", "color": "#000"},
              "encoding": {
                "x": {"field": "h", "type": "quantitative", "scale": {"domain": [-15, 15], "nice": false, "zero": false}},
                "y": {"field": "m", "type": "quantitative", "scale": {"domain": [-60, 60], "nice": false, "zero": false}},
                "text": {"field": "t"}
              }
            }
          ]
        },
        {
          "width": 277,
          "height": 185,
          "layer": [
            {
              "data": {"values": [{"z": 0}]},
              "mark": {"type": "rule", "color": "#000", "strokeWidth": 1},
              "encoding": {"x": {"field": "z", "type": "quantitative", "scale": {"domain": [-15, 15], "nice": false, "zero": false},
                "axis": {"title": "Magnetic Field (kOe)", "values": [-15,-12.5,-10,-7.5,-5,-2.5,0,2.5,5,7.5,10,12.5,15],
                  "labelExpr": "datum.value % 5 === 0 ? '' + datum.value : ''", "labelOverlap": false, "labelFlush": false,
                  "labelFontSize": 9, "labelPadding": 2, "tickSize": {"condition": {"test": "datum.value % 5 !== 0", "value": 2}, "value": 3.5},
                  "titleFontSize": 11, "titlePadding": 5, "domainWidth": 1}}}
            },
            {
              "data": {"values": [{"z": 0}]},
              "mark": {"type": "rule", "color": "#000", "strokeWidth": 1},
              "encoding": {"y": {"field": "z", "type": "quantitative", "scale": {"domain": [-25, 25], "nice": false, "zero": false},
                "axis": {"title": "Magnetization (emu/g)", "minExtent": 0, "values": [-20,-10,0,10,20],
                  "labelExpr": "datum.value % 20 === 0 ? '' + datum.value : ''", "labelOverlap": false, "labelFlush": false,
                  "labelFontSize": 9, "labelPadding": 2, "tickSize": {"condition": {"test": "datum.value % 20 !== 0", "value": 2}, "value": 3.5},
                  "titleFontSize": 11, "titlePadding": 6, "domainWidth": 1}}}
            },
            {
              "data": {"name": "cfobt"},
              "mark": {"type": "line", "stroke": "#9a9a9a", "strokeWidth": 0.7},
              "encoding": {
                "x": {"field": "h", "type": "quantitative", "scale": {"domain": [-15, 15], "nice": false, "zero": false}},
                "y": {"field": "m", "type": "quantitative", "scale": {"domain": [-25, 25], "nice": false, "zero": false}},
                "order": {"value": null}
              }
            },
            {
              "data": {"name": "cfobt"},
              "mark": {"type": "point", "filled": false, "size": 28, "strokeWidth": 1, "opacity": 1, "shape": "triangle-up"},
              "encoding": {
                "x": {"field": "h", "type": "quantitative", "scale": {"domain": [-15, 15], "nice": false, "zero": false}},
                "y": {"field": "m", "type": "quantitative", "scale": {"domain": [-25, 25], "nice": false, "zero": false}},
                "stroke": {"datum": "CFO/BT", "type": "nominal", "scale": {"domain": ["CFO/BT"], "range": ["#7cbf7c"]},
                  "legend": {"title": null, "orient": "top-left", "offset": 3, "padding": 2, "strokeColor": "#888", "fillColor": "white",
                    "labelFontSize": 10, "labelFontWeight": "bold", "labelColor": "#000", "labelFont": "Liberation Sans", "labelOffset": 24,
                    "symbolSize": 16, "symbolStrokeWidth": 1, "symbolFillColor": "transparent",
                    "symbolType": "M-1.15,0H4.8M7.2,0H10.5M6,-1.3L7.2,0.9L4.8,0.9Z"}}
              }
            },
            {
              "data": {"name": "arrC"},
              "mark": {"type": "rule", "color": "#222", "strokeWidth": 0.8},
              "encoding": {
                "x": {"field": "h", "type": "quantitative", "scale": {"domain": [-15, 15], "nice": false, "zero": false}},
                "y": {"field": "m", "type": "quantitative", "scale": {"domain": [-25, 25], "nice": false, "zero": false}},
                "x2": {"field": "h2"}, "y2": {"field": "m2"}
              }
            },
            {
              "data": {"name": "arrC"},
              "mark": {"type": "point", "filled": true, "size": 16, "color": "#222", "opacity": 1},
              "encoding": {
                "x": {"field": "h2", "type": "quantitative", "scale": {"domain": [-15, 15], "nice": false, "zero": false}},
                "y": {"field": "m2", "type": "quantitative", "scale": {"domain": [-25, 25], "nice": false, "zero": false}},
                "shape": {"field": "d", "type": "nominal", "scale": {"domain": ["left", "sw", "se", "down"], "range": ["M-1,0L1,-0.6L1,0.6Z", "M-0.7,0.7L0.92,-0.08L0.08,-0.92Z", "M0.7,0.7L-0.08,-0.92L-0.92,-0.08Z", "M0,1L-0.6,-1L0.6,-1Z"]}, "legend": null}
              }
            },
            {
              "data": {"name": "annC"},
              "mark": {"type": "text", "fontSize": 11, "fontWeight": "bold", "font": "Liberation Sans", "color": "#111"},
              "encoding": {
                "x": {"field": "h", "type": "quantitative", "scale": {"domain": [-15, 15], "nice": false, "zero": false}},
                "y": {"field": "m", "type": "quantitative", "scale": {"domain": [-25, 25], "nice": false, "zero": false}},
                "text": {"field": "t"}
              }
            },
            {
              "data": {"values": [{"h": -17.5, "m": 20.3, "t": "c"}]},
              "mark": {"type": "text", "clip": false, "fontSize": 21, "fontWeight": "bold", "font": "Liberation Sans", "color": "#000"},
              "encoding": {
                "x": {"field": "h", "type": "quantitative", "scale": {"domain": [-15, 15], "nice": false, "zero": false}},
                "y": {"field": "m", "type": "quantitative", "scale": {"domain": [-25, 25], "nice": false, "zero": false}},
                "text": {"field": "t"}
              }
            }
          ]
        }
      ]
    }
  ]
}
